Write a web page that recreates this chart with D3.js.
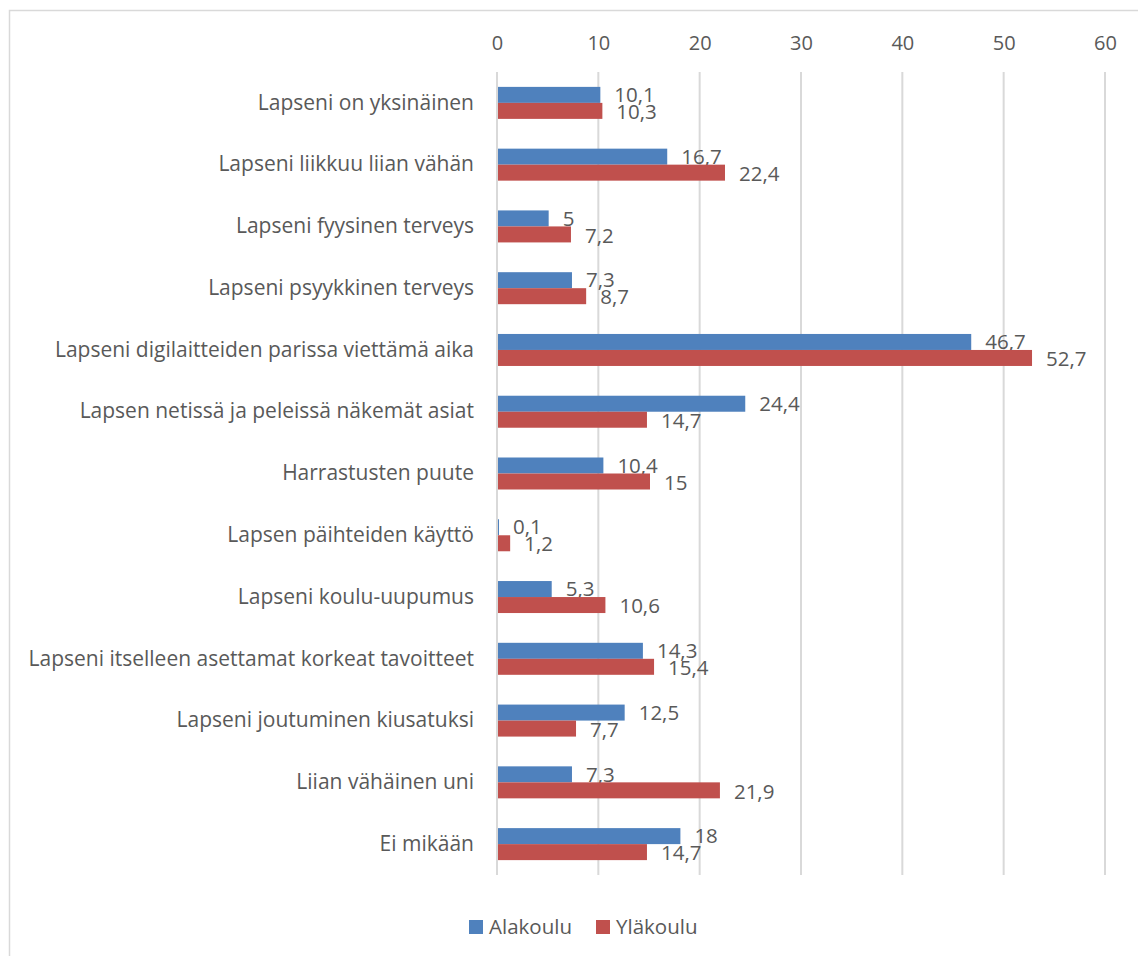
<!DOCTYPE html>
<meta charset="utf-8">
<style>
body { margin: 0; background: #fff; }
text { font-family: "Open Sans", sans-serif; fill: #595959; }
</style>
<body>
<script src="https://d3js.org/d3.v7.min.js"></script>
<script>

// data
var categories = [
  "Lapseni on yksinäinen",
  "Lapseni liikkuu liian vähän",
  "Lapseni fyysinen terveys",
  "Lapseni psyykkinen terveys",
  "Lapseni digilaitteiden parissa viettämä aika",
  "Lapsen netissä ja peleissä näkemät asiat",
  "Harrastusten puute",
  "Lapsen päihteiden käyttö",
  "Lapseni koulu-uupumus",
  "Lapseni itselleen asettamat korkeat tavoitteet",
  "Lapseni joutuminen kiusatuksi",
  "Liian vähäinen uni",
  "Ei mikään"
];
var alakoulu = [10.1, 16.7, 5, 7.3, 46.7, 24.4, 10.4, 0.1, 5.3, 14.3, 12.5, 7.3, 18];
var ylakoulu = [10.3, 22.4, 7.2, 8.7, 52.7, 14.7, 15, 1.2, 10.6, 15.4, 7.7, 21.9, 14.7];
var seriesNames = ["Alakoulu", "Yläkoulu"];
var xTicks = [0, 10, 20, 30, 40, 50, 60];

var colors = ["#4f81bd", "#c0504d"];
var W = 1138, H = 956;

var svg = d3.select("body").append("svg")
    .attr("width", W)
    .attr("height", H);

// chart border (runs off the right/bottom edges)
svg.append("rect")
    .attr("x", 9.5).attr("y", 10.5)
    .attr("width", W + 10).attr("height", H + 10)
    .attr("fill", "none")
    .attr("stroke", "#d9d9d9")
    .attr("stroke-width", 1.5);

var plotTop = 72, plotBottom = 875;

var x = d3.scaleLinear().domain([0, 60]).range([497, 1105]);
var y = d3.scaleBand().domain(categories).range([plotTop, plotBottom]);
var barH = 16;

// gridlines
svg.append("g").selectAll("line")
    .data(xTicks)
  .enter().append("line")
    .attr("x1", function(d) { return x(d); })
    .attr("x2", function(d) { return x(d); })
    .attr("y1", plotTop)
    .attr("y2", plotBottom)
    .attr("stroke", "#d9d9d9")
    .attr("stroke-width", 2);

// top axis labels
var axis = svg.append("g")
    .attr("transform", "translate(0,50)")
    .call(d3.axisTop(x).tickValues(xTicks).tickSize(0).tickPadding(0));
axis.select(".domain").remove();
axis.selectAll("text")
    .style("font-size", "20px")
    .style("font-family", "Open Sans, sans-serif")
    .attr("fill", "#595959");

// category labels
var yAxis = svg.append("g")
    .attr("transform", "translate(474,0)")
    .call(d3.axisLeft(y).tickSize(0).tickPadding(0));
yAxis.select(".domain").remove();
yAxis.selectAll("text")
    .style("font-size", "21px")
    .style("font-family", "Open Sans, sans-serif")
    .attr("fill", "#595959");

var data = categories.map(function(c, i) {
  return { cat: c, vals: [alakoulu[i], ylakoulu[i]] };
});

var rows = svg.selectAll(".row")
    .data(data)
  .enter().append("g")
    .attr("class", "row")
    .attr("transform", function(d) { return "translate(0," + (y(d.cat) + y.bandwidth() / 2) + ")"; });

[0, 1].forEach(function(s) {
  rows.append("rect")
      .attr("x", x(0) + 1)
      .attr("y", s === 0 ? -barH : 0)
      .attr("width", function(d) { return x(d.vals[s]) - x(0); })
      .attr("height", barH)
      .attr("fill", colors[s]);

  rows.append("text")
      .attr("x", function(d) { return x(d.vals[s]) + 15; })
      .attr("y", s === 0 ? -8 : 9)
      .attr("dy", "0.35em")
      .style("font-size", "20.5px")
      .text(function(d) { return String(d.vals[s]).replace(".", ","); });
});

// legend
var legend = svg.append("g").attr("transform", "translate(469,927)");
var legX = [0, 127];
seriesNames.forEach(function(n, i) {
  legend.append("rect")
      .attr("x", legX[i]).attr("y", -7)
      .attr("width", 14).attr("height", 14)
      .attr("fill", colors[i]);
  legend.append("text")
      .attr("x", legX[i] + 20).attr("y", 0)
      .attr("dy", "0.35em")
      .style("font-size", "20.5px")
      .text(n);
});

</script>
</body>
